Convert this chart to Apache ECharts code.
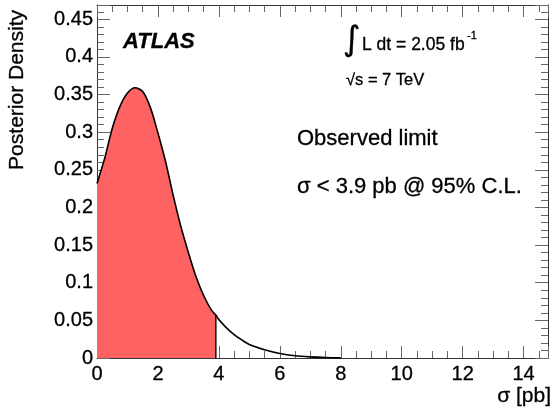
<!DOCTYPE html>
<html>
<head>
<meta charset="utf-8">
<script src="https://cdn.jsdelivr.net/npm/echarts@6/dist/echarts.min.js"></script>
<style>
html,body{margin:0;padding:0;background:#fff;}
#c{width:553px;height:412px;}
</style>
</head>
<body>
<div id="c"></div>
<script>
var sigma   = [0, 0.25, 0.5, 0.75, 1.0, 1.25, 1.5, 1.75, 2.0, 2.25, 2.5, 2.75, 3.0, 3.25, 3.5, 3.75, 3.9, 4.0, 4.25, 4.5, 4.75, 5.0, 5.5, 6.0, 6.5, 7.0, 7.5, 8.0];
var density = [0.232, 0.265, 0.305, 0.334, 0.352, 0.359, 0.354, 0.333, 0.299, 0.261, 0.216, 0.175, 0.140, 0.108, 0.083, 0.064, 0.057, 0.051, 0.040, 0.031, 0.024, 0.018, 0.011, 0.006, 0.003, 0.0015, 0.0006, 0.0002];
var limit = 3.9;
var xTicks = [0, 2, 4, 6, 8, 10, 12, 14];
var yTicks = [0, 0.05, 0.1, 0.15, 0.2, 0.25, 0.3, 0.35, 0.4, 0.45];

var full = sigma.map(function (s, i) { return [s, density[i]]; });
var fill = full.filter(function (p) { return p[0] <= limit; });
var limitVal = density[sigma.indexOf(limit)];

var FONT = 'Liberation Sans, Arial, Helvetica, sans-serif';
var axisColor = '#333';
var tickColor = '#666';

function xAxisCfg(pos, showLabel) {
  return {
    type: 'value', position: pos, min: 0, max: 14.8, interval: 2,
    axisLine: { show: true, onZero: false, lineStyle: { color: axisColor, width: 1 } },
    axisTick: { show: true, inside: true, length: 12, lineStyle: { color: tickColor } },
    minorTick: { show: true, splitNumber: 4, length: 7, lineStyle: { color: tickColor } },
    splitLine: { show: false },
    axisLabel: { show: showLabel, showMaxLabel: false, color: '#000', fontFamily: FONT, fontSize: 20, margin: 6,
      textBorderColor: '#000', textBorderWidth: 0.3,
      formatter: function (v) { return xTicks.indexOf(v) >= 0 ? String(v) : ''; } }
  };
}
function yAxisCfg(pos, showLabel) {
  return {
    type: 'value', position: pos, min: 0, max: 0.469, interval: 0.05,
    axisLine: { show: true, onZero: false, lineStyle: { color: axisColor, width: 1 } },
    axisTick: { show: true, inside: true, length: 13, lineStyle: { color: tickColor } },
    minorTick: { show: true, splitNumber: 5, length: 7, lineStyle: { color: tickColor } },
    splitLine: { show: false },
    axisLabel: { show: showLabel, showMaxLabel: false, color: '#000', fontFamily: FONT, fontSize: 20, margin: 4,
      textBorderColor: '#000', textBorderWidth: 0.3,
      formatter: function (v) { var r = Math.round(v * 100) / 100; return yTicks.indexOf(r) >= 0 ? String(r) : ''; } }
  };
}

function txt(x, y, text, font, align) {
  return { type: 'text', x: x, y: y,
    style: { text: text, font: font, fill: '#000', stroke: '#000', lineWidth: 0.3, align: align || 'left', verticalAlign: 'middle' } };
}

var chart = echarts.init(document.getElementById('c'), null, { renderer: 'canvas' });
var ylab = txt(17, 10, 'Posterior Density', '21px ' + FONT, 'right');
ylab.rotation = Math.PI / 2;
chart.setOption({
  animation: false,
  backgroundColor: '#fff',
  grid: { left: 97, right: 5, top: 5, bottom: 54, containLabel: false },
  xAxis: [xAxisCfg('bottom', true), xAxisCfg('top', false)],
  yAxis: [yAxisCfg('left', true), yAxisCfg('right', false)],
  series: [
    { type: 'line', data: fill, smooth: 0.3, symbol: 'none', clip: true,
      lineStyle: { width: 0 }, areaStyle: { color: '#ff6262', opacity: 1 }, z: 2 },
    { type: 'line', data: full, smooth: 0.3, symbol: 'none', clip: true,
      lineStyle: { color: '#000', width: 1.6 }, z: 3 },
    { type: 'line', data: [[limit, 0], [limit, limitVal]], symbol: 'none',
      lineStyle: { color: '#000', width: 1.4 }, z: 3 }
  ],
  graphic: [
    ylab,
    txt(551, 396, 'σ [pb]', '21px ' + FONT, 'right'),
    txt(123, 42, 'ATLAS', 'italic bold 22px ' + FONT),
    txt(343, 41, '∫', '34px DejaVu Sans'),
    txt(362, 45, 'L dt = 2.05 fb', '17.5px ' + FONT),
    txt(467, 36, '-1', '11px ' + FONT),
    txt(346, 80, '√s = 7 TeV', '16.5px ' + FONT),
    txt(297, 139, 'Observed limit', '22px ' + FONT),
    txt(297, 187, 'σ < 3.9 pb @ 95% C.L.', '22px ' + FONT)
  ]
});
</script>
</body>
</html>
